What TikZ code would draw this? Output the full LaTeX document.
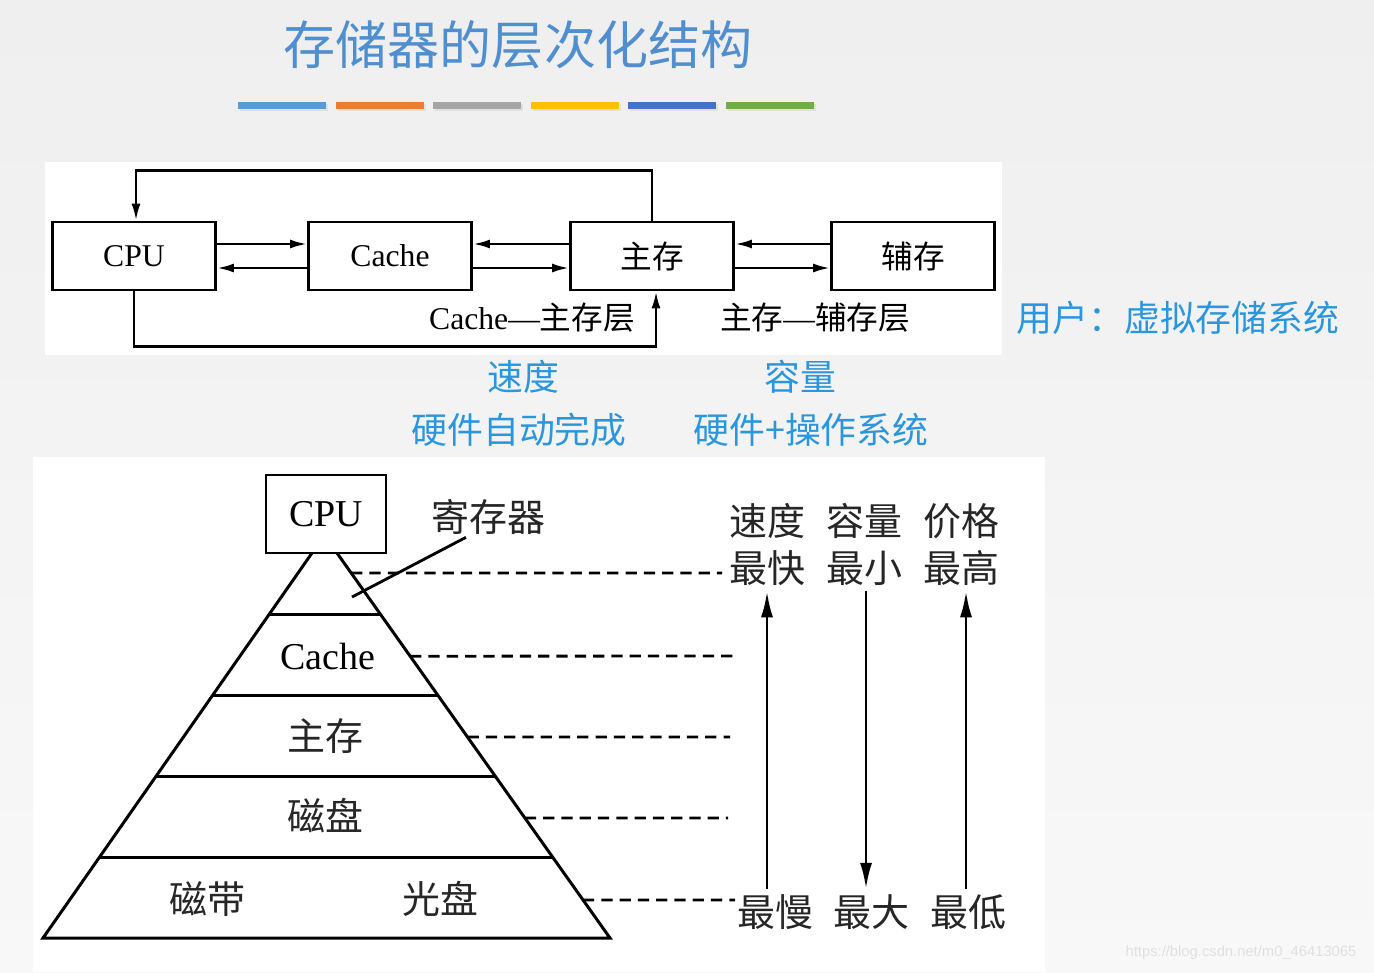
\documentclass[tikz,border=0pt]{standalone}
\usepackage{fontspec}
\setmainfont{Liberation Serif}
\newfontfamily\cjk{Noto Sans CJK SC}
\newfontfamily\urlfont{Liberation Sans}
\usetikzlibrary{arrows.meta,calc}
\definecolor{titleblue}{HTML}{4F8FD0}
\definecolor{userblue}{HTML}{2A96DE}
\definecolor{bgtop}{HTML}{EFEFEF}
\definecolor{bgbot}{HTML}{F8F8F8}
\definecolor{bar1}{HTML}{5B9BD5}
\definecolor{bar2}{HTML}{ED7D31}
\definecolor{bar3}{HTML}{A5A5A5}
\definecolor{bar4}{HTML}{FFC000}
\definecolor{bar5}{HTML}{4472C4}
\definecolor{bar6}{HTML}{70AD47}
\begin{document}
\begin{tikzpicture}[x=0.01cm,y=-0.01cm,
	box/.style={draw,line width=0.75pt,minimum width=1.63cm,minimum height=0.68cm,inner sep=0pt,font=\fontsize{9}{10}\selectfont},
	arr/.style={line width=0.75pt,-{Latex[length=1.7mm,width=0.9mm]}},
	lbl/.style={font=\fontsize{9}{10}\selectfont},
	blue txt/.style={text=userblue,font=\cjk\fontsize{10.2}{12}\selectfont},
	big/.style={font=\fontsize{10.8}{12}\selectfont,inner sep=0.5mm},
	bigzh/.style={font=\cjk\fontsize{10.8}{12}\selectfont,inner sep=0.5mm,text=black!85},
	pyr/.style={line width=0.85pt},
	guide/.style={line width=0.8pt,dash pattern=on 3.2pt off 2pt},
	varr/.style={line width=0.8pt,-{Latex[length=2.6mm,width=1.2mm]}}]
		% background and panels
		\shade[top color=bgtop,bottom color=bgbot] (0,0) rectangle (1374,972);
		\fill[white] (45,162) rectangle (1002,355);
		\fill[white] (33,457) rectangle (1045,972);
		
		% title
		\node[font=\cjk\fontsize{14.8}{16}\selectfont,text=titleblue] (title) at (518,45) {存储器的层次化结构};
		\foreach \c [count=\i from 0] in {bar1,bar2,bar3,bar4,bar5,bar6} {
			\fill[black!12] (240+97.6*\i,104) rectangle ++(88,7);
			\fill[\c] (238+97.6*\i,102) rectangle ++(88,7);
		}
		
		% two-level structure
		\node[box] (cpu) at (134,256) {CPU};
		\node[box] (cache) at (390,256) {Cache};
		\node[box] (main) at (652,256) {\cjk 主存};
		\node[box] (aux) at (913,256) {\cjk 辅存};
		
		\draw[arr] ([yshift=1.2mm]cpu.east) -- ([yshift=1.2mm]cache.west);
		\draw[arr] ([yshift=-1.2mm]cache.west) -- ([yshift=-1.2mm]cpu.east);
		\draw[arr] ([yshift=1.2mm]main.west) -- ([yshift=1.2mm]cache.east);
		\draw[arr] ([yshift=-1.2mm]cache.east) -- ([yshift=-1.2mm]main.west);
		\draw[arr] ([yshift=1.2mm]aux.west) -- ([yshift=1.2mm]main.east);
		\draw[arr] ([yshift=-1.2mm]main.east) -- ([yshift=-1.2mm]aux.west);
		\draw[arr] (main.north) -- ++(0,-50) -| ([xshift=0.2mm]cpu.north);
		\draw[arr] (cpu.south) -- ++(0,55) -| ([xshift=0.4mm]main.south);
		
		\node[lbl] (cmlayer) at (532,318) {Cache—{\cjk 主存层}};
		\node[lbl] (malayer) at (815,318) {{\cjk 主存}—{\cjk 辅存层}};
		
		\node[blue txt] (user) at (1178,318) {用户：虚拟存储系统};
		\node[blue txt] (speed) at (523,377) {速度};
		\node[blue txt] (cap) at (800,377) {容量};
		\node[blue txt] (hwauto) at (519,430) {硬件自动完成};
		\node[blue txt] (hwos) at (811,430) {硬件+操作系统};
		
		% pyramid
		\node[draw,line width=0.8pt,minimum width=1.2cm,minimum height=0.78cm,big] (core) at (326,514) {CPU};
		\coordinate (tl) at (312,553);
		\coordinate (tr) at (337,553);
		\coordinate (bl) at (43,938);
		\coordinate (br) at (610,938);
		\draw[pyr] (tl) -- (bl) -- (br) -- (tr);
		\foreach \t in {0.16,0.37,0.58,0.79}
			\draw[pyr] ($(tl)!\t!(bl)$) -- ($(tr)!\t!(br)$);
		
		\node[bigzh] (reg) at (488,517) {寄存器};
		\coordinate (regtip) at (352,597);
		\draw[line width=0.8pt] ([xshift=-2.2mm,yshift=0.3mm]reg.south) -- (regtip);
		\node[big] (cachelv) at (328,656) {Cache};
		\node[bigzh] (mainlv) at (325,736) {主存};
		\node[bigzh] (disk) at (325,816) {磁盘};
		\node[bigzh] (tape) at (207,899) {磁带};
		\node[bigzh] (optical) at (440,899) {光盘};
		
		\foreach \t/\y/\xe in {0.052/573/722,0.268/656/735,0.478/737/730,0.688/818/728,0.901/900/735}
			\draw[guide] ($(tr)!\t!(br)$) -- (\xe,\y);
		
		% trends
		\node[bigzh] (speedh) at (767,521) {速度};
		\node[bigzh] (caph) at (864,521) {容量};
		\node[bigzh] (priceh) at (961,521) {价格};
		\node[bigzh] (fast) at (767,568) {最快};
		\node[bigzh] (small) at (864,568) {最小};
		\node[bigzh] (high) at (961,568) {最高};
		\node[bigzh] (slow) at (775,912) {最慢};
		\node[bigzh] (large) at (871,912) {最大};
		\node[bigzh] (low) at (968,912) {最低};
		\draw[varr] (fast.south |- slow.north) -- (fast.south);
		\draw[varr] ([xshift=0.2mm]small.south) -- ([xshift=0.2mm]small.south |- large.north);
		\draw[varr] ([xshift=0.5mm]high.south |- low.north) -- ([xshift=0.5mm]high.south);
		
		\node[font=\urlfont\fontsize{4.2}{5}\selectfont,text=black!12] (mark) at (1241,953) {https://blog.csdn.net/m0\_46413065};
\end{tikzpicture}
\end{document}
